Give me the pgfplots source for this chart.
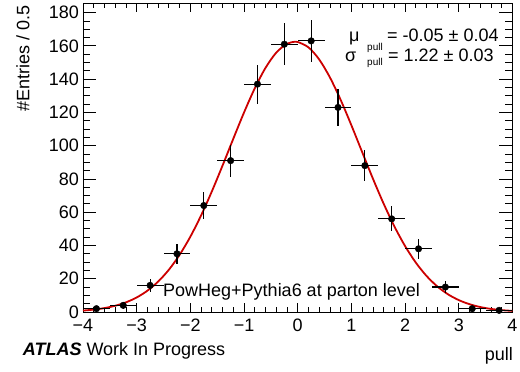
\documentclass[border=0pt]{standalone}
\usepackage{fontspec}
\setmainfont{Liberation Sans}
\usepackage{pgfplots}
\usepackage{pgfplotstable}
\pgfplotsset{compat=1.18}
\definecolor{rootred}{RGB}{204,0,0}

\pgfplotstableread{
x y ey
-3.75 2 1.41
-3.25 4 2.00
-2.75 16 4.00
-2.25 35 5.92
-1.75 64 8.00
-1.25 91 9.54
-0.75 137 11.70
-0.25 161 12.69
0.25 163 12.77
0.75 123 11.09
1.25 88 9.38
1.75 56 7.48
2.25 38 6.16
2.75 15 3.87
3.25 2 1.41
3.75 1 1.00
}\datatable

\begin{document}
\begin{tikzpicture}[font=\fontsize{18}{21.6}\selectfont]
\path[use as bounding box] (-83pt,-60pt) rectangle (437pt,312pt);
\begin{axis}[
  scale only axis, width=429.5pt, height=308.7pt,
  xmin=-4, xmax=4, ymin=0, ymax=185.6,
  axis line style={line width=0.9pt},
  tick align=inside, xtick pos=both, ytick pos=both,
  xtick={-4,...,4}, xticklabels={−4,−3,−2,−1,0,1,2,3,4},
  ytick={0,20,...,180}, yticklabels={0,20,40,60,80,100,120,140,160,180},
  minor x tick num=4, minor y tick num=3,
  major tick length=13pt, minor tick length=7pt,
  xtick style={/pgfplots/major tick length=9pt, /pgfplots/minor tick length=5pt},
  tick style={line width=0.8pt, black},
  xticklabel style={anchor=base, inner sep=0pt, yshift=-20pt},
  yticklabel style={anchor=east, inner sep=0pt, xshift=-4pt},
]
\addplot[rootred, line width=1.8pt, smooth] coordinates {
(-4.0,0.86) (-3.8,1.44) (-3.6,2.36) (-3.4,3.75) (-3.2,5.80) (-3.0,8.74)
(-2.8,12.81) (-2.6,18.29) (-2.4,25.42) (-2.2,34.40) (-2.0,45.30) (-1.8,58.08)
(-1.6,72.50) (-1.4,88.10) (-1.2,104.21) (-1.0,120.0) (-0.8,134.52) (-0.6,146.80)
(-0.4,155.95) (-0.2,161.28) (-0.05,162.5) (0.0,162.36) (0.2,159.12) (0.4,151.81)
(0.6,141.0) (0.8,127.48) (1.0,112.20) (1.2,96.14) (1.4,80.19) (1.6,65.12)
(1.8,51.47) (2.0,39.60) (2.2,29.67) (2.4,21.63) (2.6,15.36) (2.8,10.61)
(3.0,7.14) (3.2,4.68) (3.4,2.98) (3.6,1.85) (3.8,1.12) (4.0,0.66)
};
\addplot[only marks, mark=*, mark size=3.3pt, black,
  error bars/.cd, x dir=both, x fixed=0.25, y dir=both, y explicit,
  error bar style={line width=1.2pt, black}, error mark=none]
  table[x=x, y=y, y error=ey] {\datatable};
\end{axis}
\node[rotate=90, anchor=base east, inner sep=0pt] at (-53.7pt,307pt) {\#Entries / 0.5};
\node[anchor=base east, inner sep=0pt] at (430pt,-48.7pt) {pull};
\node[anchor=base west, inner sep=0pt] at (-60.3pt,-43.7pt) {\textbf{\textit{ATLAS}} Work In Progress};
\node[anchor=base west, inner sep=0pt] at (80pt,15.3pt) {PowHeg+Pythia6 at parton level};
\node[anchor=base west, inner sep=0pt] at (266pt,270.3pt) {μ};
\node[anchor=base west, inner sep=0pt] at (304pt,270.3pt) {= -0.05 ± 0.04};
\node[anchor=base west, inner sep=0pt] at (262pt,250.3pt) {σ};
\node[anchor=base west, inner sep=0pt] at (305pt,250.3pt) {= 1.22 ± 0.03};
\node[anchor=base west, inner sep=0pt, font=\fontsize{10}{12}\selectfont] at (284pt,261pt) {pull};
\node[anchor=base west, inner sep=0pt, font=\fontsize{10}{12}\selectfont] at (284pt,246pt) {pull};
\end{tikzpicture}
\end{document}
